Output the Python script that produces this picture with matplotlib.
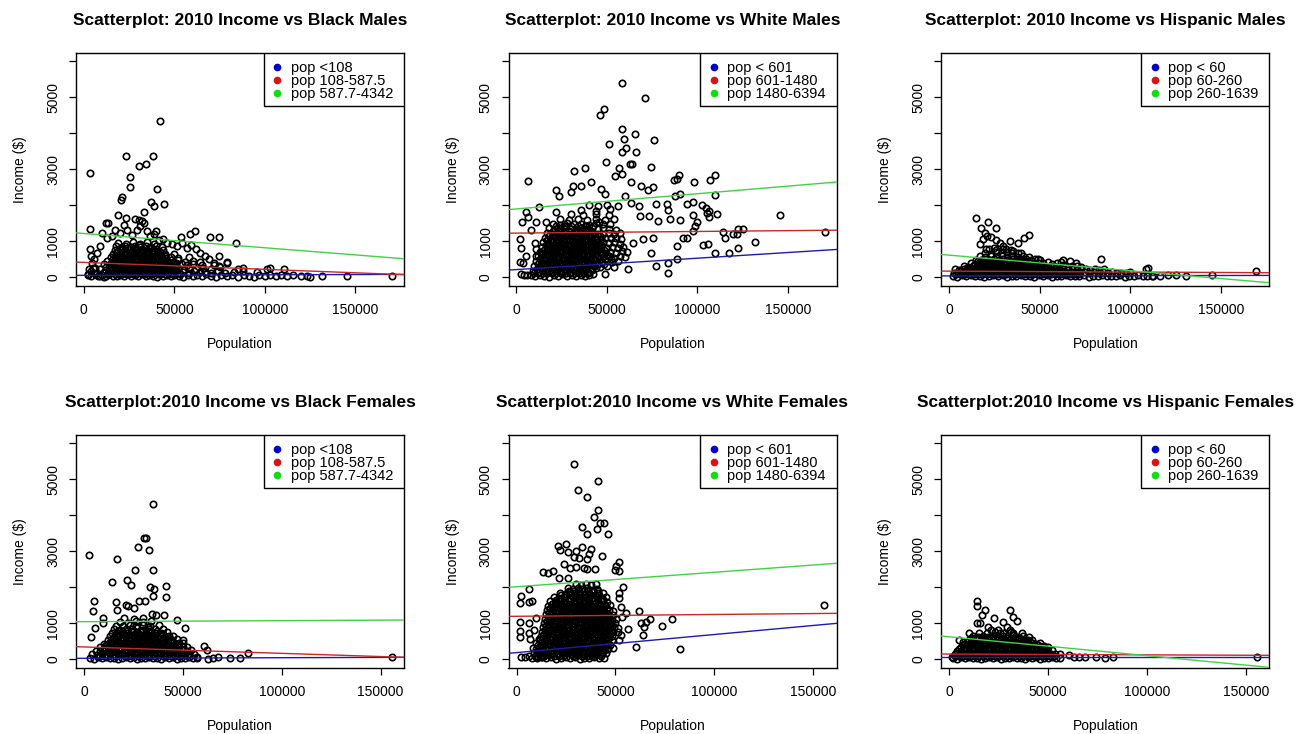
import numpy as np
import matplotlib
matplotlib.use("Agg")
import matplotlib.pyplot as plt
from matplotlib.patches import Rectangle

plt.rcParams['font.family'] = ['Liberation Sans', 'DejaVu Sans']

# ---------------- data: (population in thousands, income $) ----------------
black_males = [
    (3.3,2890),(3.3,1350),(23.2,3380),(38.2,3380),(41.9,4330),(30.7,3080),(34.6,3140),(25.7,2790),(25.7,2510),
    (40.4,2460),(37.1,2080),(39.0,1970),(44.1,2050),(21.3,2230),(20.6,2160),(18.7,1730),(23.2,1650),(33.1,1810),
    (28.5,1630),(30.3,1600),(32.2,1560),(33.5,1510),(12.5,1510),(13.2,1500),(39.7,1280),(53.7,1120),(58.8,1210),
    (61.6,1280),(69.8,1120),(74.6,1120),(84.2,960),(74.6,590),(79.0,430),
    (10.1,1235),(12.9,1097),(15.6,1143),(17.5,1328),(20.2,1235),(22.4,1466),(23.9,1328),(26.7,1189),(29.4,1328),
    (31.2,1420),(34.9,1282),(36.8,1143),(38.6,1217),(41.4,1051),(43.7,1069),(46.0,959),(48.7,913),(51.5,867),
    (54.2,959),(57.0,820),(59.2,885),(62.1,775),(64.3,682),(67.0,590),(68.9,498),(71.7,406),(74.4,313),(79.0,406),
    (3.7,775),(4.0,590),(4.6,406),(5.5,498),(7.4,682),(9.2,867),(6.4,267),(2.8,221),(2.2,83),(9.2,37),(11.0,0),
    (2.5,60),(4.2,35),(6.1,80),(8.0,45),(10.2,70),(12.1,30),(14.0,85),(16.2,50),(18.1,25),(20.0,75),(22.3,40),
    (24.1,90),(26.0,30),(28.2,65),(30.1,45),(32.0,85),(34.2,30),(36.1,70),(38.0,50),(40.2,20),(42.1,80),(44.0,40),
    (46.2,65),(48.1,30),(50.0,75),(52.5,45),(55.0,20),(57.5,70),(60.1,35),(62.6,60),(65.0,25),(67.5,80),(70.2,40),
    (73.1,15),(76.0,60),(79.0,30),(82.1,70),(85.0,20),(88.2,55),(91.0,35),(94.1,10),(97.0,60),(100.2,30),(103.0,75),
    (106.1,25),(109.0,55),(112.0,40),(115.5,70),(120.0,30),(123.1,50),(125.0,20),(131.4,30),(145.2,50),(170.0,25),
    (4.0,170),(7.5,130),(11.0,160),(13.5,120),(15.8,180),(18.0,140),(20.1,110),(22.0,175),(24.2,135),(26.1,160),
    (28.0,115),(30.2,185),(32.1,140),(34.0,120),(36.2,170),(38.1,130),(40.0,160),(42.2,110),(44.1,180),(46.0,140),
    (48.2,120),(50.1,165),(52.3,130),(55.0,155),(58.1,120),(61.0,170),(64.2,135),(67.0,150),(70.1,120),(74.0,165),
    (78.2,130),(83.0,150),(88.1,180),(95.6,140),(101.1,240),(102.9,250),(110.3,240),
    (5.0,260),(9.0,230),(12.0,280),(14.8,240),(17.0,270),(19.1,220),(21.0,285),(23.1,245),(25.0,270),(27.2,225),
    (29.1,280),(31.0,240),(33.2,265),(35.1,230),(37.0,285),(39.2,250),(41.1,270),(43.0,225),(45.2,260),(47.1,240),
    (49.0,280),(52.0,250),(55.1,225),(58.0,270),(62.2,240),(66.0,260),(70.1,230),(75.0,280),(85.0,240),(88.0,250),
    (11.0,360),(14.1,330),(16.0,370),(18.2,340),(20.1,375),(22.0,320),(24.2,365),(26.1,345),(28.0,380),(30.2,330),
    (32.1,360),(34.0,340),(36.2,375),(38.1,325),(40.0,360),(42.2,345),(44.1,370),(46.0,330),(48.2,355),(51.0,340),
    (54.1,370),(57.0,330),(60.2,360),(65.0,340),(72.0,350),
    (13.0,460),(16.1,430),(18.0,470),(20.2,440),(22.1,475),(24.0,425),(26.2,465),(28.1,445),(30.0,470),(32.2,430),
    (34.1,460),(36.0,440),(38.2,475),(40.1,430),(42.0,465),(44.2,440),(46.1,460),(49.0,430),(52.1,470),(56.0,440),
    (60.1,460),(64.0,430),
    (15.0,560),(17.1,530),(19.0,570),(21.2,540),(23.1,575),(25.0,530),(27.2,565),(29.1,545),(31.0,570),(33.2,535),
    (35.1,560),(37.0,540),(39.2,575),(41.1,530),(43.0,560),(45.2,545),(48.0,570),(52.1,540),(58.0,560),
    (16.0,660),(18.1,630),(20.0,670),(22.2,640),(24.1,675),(26.0,630),(28.2,665),(30.1,640),(32.0,670),(34.2,635),
    (36.1,660),(38.0,640),(40.2,670),(42.1,630),(45.0,660),(50.0,640),
    (17.0,760),(19.1,730),(21.0,770),(23.2,740),(25.1,775),(27.0,730),(29.2,765),(31.1,745),(33.0,770),(35.2,735),
    (38.0,760),(41.1,740),(44.0,770),
    (18.0,860),(21.1,830),(23.0,870),(26.2,840),(28.1,875),(31.0,830),(34.2,865),(37.1,845),(40.0,870),(43.2,835),
    (19.0,960),(23.1,930),(27.0,970),(31.2,940),(35.1,975),(39.0,930),
    (19.5,95),(25.2,200),(29.8,310),(33.6,500),(27.6,610),(22.8,700),(36.8,805),(30.4,905),(23.9,410),(37.7,195),
    (13.1,100),(17.0,95),(21.1,105),(25.0,100),(29.1,95),(33.0,105),(37.1,100),(41.0,95),(45.1,105),(49.0,100),
    (53.1,95),(14.1,205),(18.0,195),(22.1,200),(26.0,210),(30.1,195),(34.0,205),(38.1,200),(42.0,195),(46.1,205),
    (50.0,200),(15.1,300),(19.0,310),(23.1,295),(27.0,305),(31.1,300),(35.0,310),(39.1,295),(43.0,305),(47.1,300),
    (51.0,295),(15.2,400),(19.1,395),(23.0,410),(27.1,400),(31.0,395),(35.1,405),(39.0,400),(43.1,410),(47.0,395),
    (51.1,400),(16.1,500),(20.0,505),(24.1,495),(28.0,500),(32.1,510),(36.0,495),(40.1,505),(44.0,500),(48.1,495),
    (17.1,600),(21.0,605),(25.1,595),(29.0,600),(33.1,610),(37.0,595),(41.1,605),(45.0,600),
    (18.1,700),(22.0,705),(26.1,695),(30.0,700),(34.1,710),(38.0,695),(42.1,705),
    (20.1,800),(24.0,805),(28.1,795),(32.0,800),(36.1,810),(40.0,795),
]

white_males = [
    (58.1,5387),(70.8,4972),(46.1,4511),(48.3,4677),(58.6,4124),(65.6,3976),(75.9,3810),(59.3,3838),(51.2,3699),
    (60.4,3598),(58.1,3469),(66.3,3487),(49.8,3210),(63.0,3137),(64.0,3137),(37.8,3026),(31.9,2961),(56.6,3026),
    (58.1,2869),(54.6,2804),(74.3,3072),(88.8,2731),(89.9,2832),(87.2,2712),(106.9,2712),(109.8,2841),(98.0,2638),
    (6.6,2684),(21.7,2435),(23.6,2269),(30.2,2371),(31.3,2528),(35.6,2528),(41.5,2638),(46.6,2454),(48.8,2315),
    (59.9,2251),(63.2,2638),(68.6,2528),(72.6,2417),(75.6,2509),(90.3,2325),(87.5,2251),(109.8,2297),(63.6,2066),
    (67.8,1993),(77.4,2048),(83.3,2048),(84.0,1882),(94.4,2038),(97.3,2085),(102.8,2001),(104.5,1928),(106.5,1836),
    (110.6,1771),(5.5,1808),(6.3,1679),(2.9,1541),(12.5,1946),(11.1,1531),(16.2,1531),(21.7,1808),(68.2,1716),
    (73.4,1697),(78.3,1559),(84.8,1624),(90.3,1605),(97.7,1744),(99.9,1531),(105.1,1790),(106.5,1670),(98.6,1421),
    (97.7,1282),(114.3,1273),(115.2,1098),(121.6,1218),(122.2,1347),(125.3,1347),(119.8,1218),(170.3,1264),
    (145.6,1725),(131.6,987),(122.6,812),(117.4,664),(109.8,664),(106.0,913),(103.2,886),(94.4,1098),(92.2,1098),
    (88.8,867),(88.5,498),(83.9,406),(83.9,129),(77.4,314),(74.3,664),(75.6,1098),(70.0,1052),(64.5,959),(61.7,240),
    (49.2,101),(42.4,101),(2.2,1052),(2.4,821),(2.2,434),(5.2,590),(3.7,406),(2.6,101),(4.1,55),(5.9,55),(8.3,1328),
    (10.1,959),(11.1,775),(11.1,590),
    (8.0,60),(10.5,30),(13.1,75),(15.4,45),(18.0,20),(20.6,70),(23.0,40),(25.4,85),(28.1,30),(30.5,65),(33.0,25),
    (35.6,70),(38.0,40),(40.4,60),
    (9.0,190),(12.1,160),(14.5,210),(17.0,170),(19.6,150),(22.0,200),(24.4,165),(27.1,195),(29.5,150),(32.0,205),
    (34.4,170),(37.1,190),(39.5,155),(42.0,200),
    (10.0,320),(13.0,290),(15.6,330),(18.0,300),(20.4,340),(23.1,295),(25.5,325),(28.0,305),(30.6,335),(33.0,290),
    (35.4,320),(38.1,300),(40.5,340),(43.0,310),(46.1,290),(50.0,325),(54.2,300),
    (11.0,450),(14.1,420),(16.5,460),(19.0,430),(21.6,455),(24.0,425),(26.4,465),(29.1,435),(31.5,450),(34.0,420),
    (36.6,460),(39.0,440),(41.4,425),(44.0,455),(47.1,430),(50.0,460),(53.1,420),(56.0,450),
    (12.0,580),(15.1,550),(17.5,590),(20.0,560),(22.6,575),(25.0,545),(27.4,595),(30.0,560),(32.6,580),(35.0,550),
    (37.4,590),(40.1,565),(42.5,545),(45.0,585),(48.1,560),(51.0,580),(54.1,550),(57.0,590),(60.0,565),
    (13.0,710),(16.1,680),(18.5,720),(21.0,690),(23.6,705),(26.0,675),(28.4,725),(31.0,690),(33.5,710),(36.1,680),
    (38.5,720),(41.0,695),(43.6,675),(46.0,715),(49.1,690),(52.0,710),(55.0,680),(58.1,720),(61.0,700),
    (14.0,840),(17.0,810),(19.5,850),(22.1,820),(24.5,835),(27.0,805),(29.6,855),(32.0,820),(34.5,840),(37.1,810),
    (39.5,850),(42.0,825),(44.6,805),(47.0,845),(50.1,820),(53.0,840),(56.1,810),(59.0,850),
    (15.0,970),(18.0,940),(20.5,980),(23.1,950),(25.5,965),(28.0,935),(30.6,985),(33.0,950),(35.5,970),(38.1,940),
    (40.5,980),(43.0,955),(45.6,935),(48.0,975),(51.1,950),(54.0,970),(57.0,940),
    (16.0,1100),(19.0,1070),(21.5,1110),(24.1,1080),(26.5,1095),(29.0,1065),(31.6,1115),(34.0,1080),(36.5,1100),
    (39.1,1070),(41.5,1110),(44.0,1085),(46.6,1065),(49.0,1105),(52.1,1080),(55.0,1100),(58.0,1070),
    (17.0,1230),(20.0,1200),(22.5,1240),(25.1,1210),(27.5,1225),(30.0,1195),(32.6,1245),(35.0,1210),(37.5,1230),
    (40.1,1200),(42.5,1240),(45.0,1215),(48.0,1195),(51.1,1235),(54.0,1210),(57.0,1230),
    (18.0,1360),(21.1,1330),(24.0,1370),(27.0,1340),(30.1,1355),(33.0,1325),(36.0,1375),(39.1,1340),(42.0,1360),
    (45.0,1330),(48.1,1370),(51.0,1345),(55.0,1325),
    (20.0,1490),(24.1,1460),(28.0,1500),(32.1,1470),(36.0,1485),(40.1,1455),(44.0,1505),(48.1,1470),(52.0,1490),
    (24.0,1620),(29.1,1590),(34.0,1630),(39.1,1600),(44.0,1615),(49.1,1585),(54.0,1625),
    (30.0,1750),(37.1,1720),(44.0,1760),(51.1,1730),(36.0,1880),(44.1,1850),(52.0,1890),
    (40.0,2010),(45.1,1980),(50.0,2020),(56.1,1990),
    (16.8,240),(21.8,380),(26.7,110),(31.8,500),(36.9,250),(19.3,640),(24.9,770),(29.9,900),(34.8,630),(39.8,760),
    (44.8,900),(22.8,1020),(27.8,1160),(33.8,1290),(41.2,1030),(46.3,1160),(38.4,1420),(45.9,1550),(26.1,1420),
    (9.7,115),(12.2,120),(14.7,110),(17.2,125),(19.7,115),(22.2,120),(24.7,110),(27.2,125),(29.7,115),(32.2,120),
    (34.7,110),(37.2,125),(39.7,115),
    (11.2,245),(13.7,250),(16.2,240),(18.7,255),(21.2,245),(23.7,250),(26.2,240),(28.7,255),(31.2,245),(33.7,250),
    (36.2,240),(38.7,255),(41.2,245),(44.2,250),
    (12.2,375),(14.7,380),(17.2,370),(19.7,385),(22.2,375),(24.7,380),(27.2,370),(29.7,385),(32.2,375),(34.7,380),
    (37.2,370),(39.7,385),(42.2,375),(45.2,380),(48.2,370),
    (13.2,505),(15.7,510),(18.2,500),(20.7,515),(23.2,505),(25.7,510),(28.2,500),(30.7,515),(33.2,505),(35.7,510),
    (38.2,500),(40.7,515),(43.2,505),(46.2,510),(49.2,500),(52.2,515),
    (14.2,635),(16.7,640),(19.2,630),(21.7,645),(24.2,635),(26.7,640),(29.2,630),(31.7,645),(34.2,635),(36.7,640),
    (39.2,630),(41.7,645),(44.2,635),(47.2,640),(50.2,630),
    (15.2,765),(17.7,770),(20.2,760),(22.7,775),(25.2,765),(27.7,770),(30.2,760),(32.7,775),(35.2,765),(37.7,770),
    (40.2,760),(42.7,775),(45.2,765),(48.2,770),
    (16.2,895),(18.7,900),(21.2,890),(23.7,905),(26.2,895),(28.7,900),(31.2,890),(33.7,905),(36.2,895),(38.7,900),
    (41.2,890),(43.7,905),(46.7,895),
    (17.2,1025),(19.7,1030),(22.2,1020),(24.7,1035),(27.2,1025),(29.7,1030),(32.2,1020),(34.7,1035),(37.2,1025),
    (39.7,1030),(42.2,1020),(44.7,1035),
    (18.2,1155),(20.7,1160),(23.2,1150),(25.7,1165),(28.2,1155),(30.7,1160),(33.2,1150),(35.7,1165),(38.2,1155),
    (40.7,1160),(43.2,1150),
    (20.2,1290),(23.2,1295),(26.2,1285),(29.2,1300),(32.2,1290),(35.2,1295),(38.2,1285),(41.2,1300),
    (22.2,1420),(26.2,1425),(30.2,1415),(34.2,1430),(38.2,1420),(42.2,1425),
]

hispanic_males = [
    (14.7,1651),(21.5,1531),(17.8,1375),(25.7,1375),(19.7,1236),(21.0,1162),(23.3,1125),(26.1,1033),(18.7,1052),
    (16.9,913),(27.9,959),(33.5,1006),(29.8,867),(38.0,959),(41.2,1098),(44.1,1190),(20.6,775),(24.6,821),
    (31.6,775),(35.3,729),(39.9,664),(49.1,517),(84.0,517),(62.9,470),(66.5,443),(70.2,406),(108.8,240),
    (109.9,268),(169.5,175),(145.2,55),(130.9,37),(125.4,55),(120.8,55),(116.2,37),(112.5,37),
    (2.0,40),(4.5,20),(7.0,55),(9.5,30),(12.0,60),(14.5,25),(17.0,50),(19.5,15),(22.0,45),(24.5,65),(27.0,30),
    (29.5,55),(32.0,20),(34.5,50),(37.0,35),(39.5,60),(42.0,25),(44.5,45),(47.0,15),(49.5,55),(52.0,30),(54.5,60),
    (57.0,20),(59.5,45),(62.0,35),(64.5,55),(67.0,25),(69.5,50),(72.0,30),(74.5,60),(77.0,20),(79.5,45),(82.0,35),
    (84.5,55),(87.0,25),(89.5,50),(92.0,30),(94.5,55),(97.0,20),(99.5,45),(102.0,35),(104.5,55),(107.0,25),
    (109.5,50),(112.0,30),
    (2.5,130),(5.0,110),(7.5,145),(10.0,120),(12.5,150),(15.0,115),(17.5,140),(20.0,125),(22.5,155),(25.0,110),
    (27.5,135),(30.0,150),(32.5,120),(35.0,145),(37.5,115),(40.0,140),(42.5,125),(45.0,150),(47.5,110),(50.0,135),
    (52.5,145),(55.0,120),(57.5,150),(60.0,115),(62.5,140),(65.0,125),(67.5,150),(70.0,110),(72.5,135),(75.0,145),
    (77.5,120),(80.0,140),(82.5,115),(85.0,135),(87.5,125),(90.0,145),(92.5,110),(95.0,130),(97.5,120),(100.0,140),
    (3.0,220),(5.5,200),(8.0,235),(10.5,210),(13.0,240),(15.5,205),(18.0,230),(20.5,215),(23.0,245),(25.5,200),
    (28.0,225),(30.5,240),(33.0,210),(35.5,235),(38.0,205),(40.5,230),(43.0,215),(45.5,240),(48.0,200),(50.5,225),
    (53.0,235),(55.5,210),(58.0,240),(60.5,205),(63.0,230),(65.5,215),(68.0,240),(70.5,200),(73.0,225),(75.5,235),
    (78.0,210),(80.5,230),(83.0,205),(85.5,225),
    (8.0,310),(10.5,290),(13.0,325),(15.5,300),(18.0,330),(20.5,295),(23.0,320),(25.5,305),(28.0,335),(30.5,290),
    (33.0,315),(35.5,330),(38.0,300),(40.5,325),(43.0,295),(45.5,320),(48.0,305),(50.5,330),(53.0,290),(55.5,315),
    (58.0,325),(60.5,300),(63.0,330),(65.5,295),(68.0,320),(70.5,305),(73.0,300),
    (12.0,400),(14.5,380),(17.0,415),(19.5,390),(22.0,420),(24.5,385),(27.0,410),(29.5,395),(32.0,425),(34.5,380),
    (37.0,405),(39.5,420),(42.0,390),(44.5,415),(47.0,385),(49.5,410),(52.0,395),(54.5,420),(57.0,380),(59.5,405),
    (62.0,415),
    (15.0,490),(17.5,470),(20.0,505),(22.5,480),(25.0,510),(27.5,475),(30.0,500),(32.5,485),(35.0,515),(37.5,470),
    (40.0,495),(42.5,510),(45.0,480),(47.5,500),(50.0,485),
    (17.0,580),(20.0,560),(23.0,595),(26.0,570),(29.0,600),(32.0,565),(35.0,590),(38.0,575),(41.0,595),(44.0,565),
    (20.0,680),(23.0,660),(26.0,695),(29.0,670),(32.0,700),(35.0,665),(38.0,690),
    (22.0,780),(26.0,760),(30.0,795),(34.0,770),
    (3.7,85),(6.2,90),(8.7,80),(11.2,95),(13.7,85),(16.2,90),(18.7,80),(21.2,95),(23.7,85),(26.2,90),(28.7,80),
    (31.2,95),(33.7,85),(36.2,90),(38.7,80),(41.2,95),(43.7,85),(46.2,90),(48.7,80),(51.2,95),(53.7,85),(56.2,90),
    (58.7,80),(61.2,95),(63.7,85),(66.2,90),(68.7,80),(71.2,95),
    (6.7,175),(9.2,180),(11.7,170),(14.2,185),(16.7,175),(19.2,180),(21.7,170),(24.2,185),(26.7,175),(29.2,180),
    (31.7,170),(34.2,185),(36.7,175),(39.2,180),(41.7,170),(44.2,185),(46.7,175),(49.2,180),(51.7,170),(54.2,185),
    (56.7,175),(59.2,180),(61.7,170),
    (9.7,265),(12.2,270),(14.7,260),(17.2,275),(19.7,265),(22.2,270),(24.7,260),(27.2,275),(29.7,265),(32.2,270),
    (34.7,260),(37.2,275),(39.7,265),(42.2,270),(44.7,260),(47.2,275),(49.7,265),(52.2,270),(54.7,260),
    (13.7,355),(16.2,360),(18.7,350),(21.2,365),(23.7,355),(26.2,360),(28.7,350),(31.2,365),(33.7,355),(36.2,360),
    (38.7,350),(41.2,365),(43.7,355),(46.2,360),(48.7,350),
    (16.2,445),(18.7,450),(21.2,440),(23.7,455),(26.2,445),(28.7,450),(31.2,440),(33.7,455),(36.2,445),(38.7,450),
    (41.2,440),(43.7,455),
]

black_females = [
    (2.7,2898),(34.7,4315),(30.3,3380),(31.3,3361),(27.1,3111),(32.7,3037),(16.8,2787),(25.8,2472),(34.7,2472),
    (14.3,2157),(21.6,2194),(23.8,2065),(33.4,2000),(35.4,1944),(34.7,1759),(41.5,2046),(41.5,1741),(5.1,1620),
    (4.7,1343),(16.3,1602),(21.2,1509),(22.4,1491),(25.4,1435),(28.0,1620),(30.7,1620),(16.8,1370),(34.2,1250),
    (36.4,1231),(40.6,1231),(46.8,1093),(51.1,880),(9.8,1139),(9.4,1019),(5.6,880),(3.4,611),(49.9,537),(60.7,370),
    (62.0,259),(83.1,167),(78.9,46),(73.8,46),(67.9,65),(65.4,28),(62.9,0),(155.7,56),(57.0,74),(52.7,120),
    (3.0,40),(5.0,20),(7.0,55),(9.0,30),(11.0,60),(13.0,25),(15.0,50),(17.0,15),(19.0,45),(21.0,65),(23.0,30),
    (25.0,55),(27.0,20),(29.0,50),(31.0,35),(33.0,60),(35.0,25),(37.0,45),(39.0,15),(41.0,55),(43.0,30),(45.0,60),
    (47.0,20),(49.0,45),(51.0,35),(53.0,55),(55.0,25),(57.0,50),
    (4.0,140),(6.5,120),(9.0,155),(11.0,130),(13.0,160),(15.0,125),(17.0,150),(19.0,135),(21.0,165),(23.0,120),
    (25.0,145),(27.0,160),(29.0,130),(31.0,155),(33.0,125),(35.0,150),(37.0,135),(39.0,160),(41.0,120),(43.0,145),
    (45.0,155),(47.0,130),(49.0,160),(51.0,125),(53.0,150),(55.5,135),
    (6.0,240),(8.0,220),(10.0,255),(12.0,230),(14.0,260),(16.0,225),(18.0,250),(20.0,235),(22.0,265),(24.0,220),
    (26.0,245),(28.0,260),(30.0,230),(32.0,255),(34.0,225),(36.0,250),(38.0,235),(40.0,260),(42.0,220),(44.0,245),
    (46.0,255),(48.0,230),(50.0,260),(52.0,225),(54.0,250),
    (8.0,340),(10.0,320),(12.0,355),(14.0,330),(16.0,360),(18.0,325),(20.0,350),(22.0,335),(24.0,365),(26.0,320),
    (28.0,345),(30.0,360),(32.0,330),(34.0,355),(36.0,325),(38.0,350),(40.0,335),(42.0,360),(44.0,320),(46.0,345),
    (48.0,355),(50.0,330),(52.0,350),
    (10.0,440),(12.0,420),(14.0,455),(16.0,430),(18.0,460),(20.0,425),(22.0,450),(24.0,435),(26.0,465),(28.0,420),
    (30.0,445),(32.0,460),(34.0,430),(36.0,455),(38.0,425),(40.0,450),(42.0,435),(44.0,460),(46.0,420),(48.0,445),
    (50.0,455),
    (12.0,540),(14.0,520),(16.0,555),(18.0,530),(20.0,560),(22.0,525),(24.0,550),(26.0,535),(28.0,565),(30.0,520),
    (32.0,545),(34.0,560),(36.0,530),(38.0,555),(40.0,525),(42.0,550),(44.5,535),(47.0,560),
    (13.0,640),(15.0,620),(17.0,655),(19.0,630),(21.0,660),(23.0,625),(25.0,650),(27.0,635),(29.0,665),(31.0,620),
    (33.0,645),(35.0,660),(37.0,630),(39.0,655),(41.0,625),(43.0,650),(45.0,635),
    (14.0,740),(16.5,720),(19.0,755),(21.5,730),(24.0,760),(26.5,725),(29.0,750),(31.5,735),(34.0,765),(36.5,720),
    (39.0,745),(42.0,760),
    (15.0,840),(18.0,820),(21.0,855),(24.0,830),(27.0,860),(30.0,825),(33.0,850),(36.0,835),(40.0,855),
    (16.0,940),(19.5,920),(23.0,955),(26.5,930),(30.0,960),(33.5,925),(38.0,950),
    (18.0,1040),(22.0,1020),(26.0,1055),(30.0,1030),(34.0,1060),(20.0,1140),(25.0,1120),(30.0,1155),
    (20.9,90),(26.1,190),(31.2,290),(24.8,395),(29.1,490),(35.2,590),(22.7,690),(28.3,790),(32.4,890),(37.3,395),
    (8.0,90),(12.0,95),(16.0,85),(24.0,95),(28.0,85),(32.0,90),(36.0,95),(40.0,85),(44.0,90),(48.0,95),
    (9.0,190),(13.0,195),(17.0,185),(21.0,195),(25.0,190),(29.0,185),(33.0,195),(37.0,190),(41.0,185),(45.0,195),
    (49.0,190),(11.0,290),(15.0,295),(19.0,285),(23.0,295),(27.0,290),(35.0,285),(39.0,295),(43.0,290),(47.0,285),
    (11.0,390),(15.0,395),(19.0,385),(23.0,395),(27.0,390),(31.0,385),(35.0,395),(39.0,390),(43.0,385),(47.0,395),
    (13.0,490),(17.0,495),(21.0,485),(25.0,495),(33.0,490),(37.0,485),(41.0,495),(45.0,490),
    (15.0,590),(19.0,595),(23.0,585),(27.0,595),(31.0,590),(39.0,585),(43.0,595),
    (16.0,690),(20.0,695),(24.0,685),(28.0,695),(32.0,690),(36.0,685),(40.0,695),
    (17.0,790),(21.0,795),(25.0,785),(29.0,795),(33.0,790),(37.0,785),
]

white_females = [
    (28.9,5417),(41.4,4954),(30.9,4704),(35.6,4518),(41.4,4148),(39.0,3963),(42.2,3796),(44.4,3778),(40.5,3611),
    (32.9,3676),(35.6,3472),(46.1,3472),(20.8,3157),(25.0,3204),(22.0,3037),(26.2,2991),(30.1,3018),(32.9,3130),
    (37.7,3065),(36.8,2926),(29.2,2833),(31.8,2805),(35.6,2787),(43.2,2870),(24.2,2648),(27.0,2546),(30.1,2574),
    (34.0,2528),(35.6,2509),(39.4,2509),(52.0,2713),(50.3,2602),(51.7,2454),(49.7,2481),(13.5,2417),(15.7,2389),
    (18.6,2454),(21.6,2250),(25.8,2250),(6.1,1944),(2.2,1759),(1.9,1555),(6.4,1602),(7.6,1620),(54.0,2000),
    (52.0,1852),(52.0,1713),(61.8,1343),(52.9,1463),(55.4,1278),(53.1,1185),(56.2,833),(52.9,676),(52.0,537),
    (48.6,306),(45.8,278),(60.5,352),(63.0,1019),(64.2,907),(65.5,1046),(67.6,1120),(63.8,667),(73.6,926),
    (78.7,1120),(82.8,278),(155.7,1509),(1.7,1046),(1.9,796),(1.9,611),(6.4,1019),(6.1,722),(6.8,556),(9.0,815),
    (9.8,1139),(2.2,74),(4.4,56),(6.4,93),(9.8,56),(12.3,74),(8.1,306),(9.8,444),(11.5,556),
    (8.0,50),(10.4,25),(12.9,60),(15.1,30),(17.6,55),(20.1,20),(22.3,45),(24.8,65),(27.2,30),(29.7,55),(32.0,20),
    (34.3,50),(36.8,35),(39.2,60),(41.7,25),(44.0,45),
    (9.0,170),(11.5,145),(13.8,180),(16.1,150),(18.6,175),(21.1,140),(23.4,165),(25.7,185),(28.2,150),(30.6,175),
    (33.1,140),(35.4,170),(37.8,155),(40.3,180),(42.6,145),(45.1,165),
    (10.0,290),(12.4,265),(14.9,300),(17.2,270),(19.6,295),(22.1,260),(24.4,285),(26.8,305),(29.1,270),(31.6,295),
    (34.0,260),(36.4,290),(38.9,275),(41.2,300),(43.6,265),(46.0,285),
    (11.0,410),(13.4,385),(15.8,420),(18.3,390),(20.6,415),(23.0,380),(25.5,405),(27.8,425),(30.2,390),(32.6,415),
    (35.1,380),(37.4,410),(39.8,395),(42.2,420),(44.7,385),(47.0,405),
    (12.0,530),(14.4,505),(16.9,540),(19.2,510),(21.6,535),(24.1,500),(26.4,525),(28.8,545),(31.2,510),(33.7,535),
    (36.0,500),(38.4,530),(40.9,515),(43.2,540),(45.6,505),(48.0,525),
    (12.5,650),(14.9,625),(17.3,660),(19.8,630),(22.1,655),(24.5,620),(27.0,645),(29.3,665),(31.7,630),(34.1,655),
    (36.6,620),(38.9,650),(41.3,635),(43.8,660),(46.1,625),(48.5,645),
    (13.0,770),(15.4,745),(17.8,780),(20.3,750),(22.6,775),(25.0,740),(27.5,765),(29.8,785),(32.2,750),(34.6,775),
    (37.1,740),(39.4,770),(41.8,755),(44.3,780),(46.6,745),(49.0,765),(51.2,750),
    (13.5,890),(15.9,865),(18.3,900),(20.8,870),(23.1,895),(25.5,860),(28.0,885),(30.3,905),(32.7,870),(35.1,895),
    (37.6,860),(39.9,890),(42.3,875),(44.8,900),(47.1,865),(49.5,885),(51.5,870),
    (14.0,1010),(16.4,985),(18.8,1020),(21.3,990),(23.6,1015),(26.0,980),(28.5,1005),(30.8,1025),(33.2,990),
    (35.6,1015),(38.1,980),(40.4,1010),(42.8,995),(45.3,1020),(47.6,985),(50.0,1005),
    (14.5,1130),(16.9,1105),(19.3,1140),(21.8,1110),(24.1,1135),(26.5,1100),(29.0,1125),(31.3,1145),(33.7,1110),
    (36.1,1135),(38.6,1100),(40.9,1130),(43.3,1115),(45.8,1140),(48.1,1105),(50.5,1125),
    (15.0,1250),(17.4,1225),(19.8,1260),(22.3,1230),(24.6,1255),(27.0,1220),(29.5,1245),(31.8,1265),(34.2,1230),
    (36.6,1255),(39.1,1220),(41.4,1250),(43.8,1235),(46.3,1260),(48.6,1225),
    (15.5,1370),(17.9,1345),(20.3,1380),(22.8,1350),(25.1,1375),(27.5,1340),(30.0,1365),(32.3,1385),(34.7,1350),
    (37.1,1375),(39.6,1340),(41.9,1370),(44.3,1355),(46.8,1380),(49.0,1345),
    (16.0,1490),(18.4,1465),(20.8,1500),(23.3,1470),(25.6,1495),(28.0,1460),(30.5,1485),(32.8,1505),(35.2,1470),
    (37.6,1495),(40.1,1460),(42.4,1490),(44.8,1475),(47.3,1500),
    (17.0,1610),(19.4,1585),(21.8,1620),(24.3,1590),(26.6,1615),(29.0,1580),(31.5,1605),(33.8,1625),(36.2,1590),
    (38.6,1615),(41.1,1580),(43.4,1610),(45.8,1595),
    (19.0,1730),(21.4,1705),(23.8,1740),(26.3,1710),(28.6,1735),(31.0,1700),(33.5,1725),(35.8,1745),(38.2,1710),
    (40.6,1735),(43.1,1700),(45.4,1730),
    (22.0,1850),(24.4,1825),(26.8,1860),(29.3,1830),(31.6,1855),(34.0,1820),(36.5,1845),(38.8,1865),(41.2,1830),
    (43.6,1855),
    (26.0,1970),(28.4,1945),(30.8,1980),(33.3,1950),(35.6,1975),(38.0,1940),(40.5,1965),
    (30.0,2090),(32.5,2060),(35.0,2100),(37.5,2070),(40.0,2095),
    (21.2,100),(26.3,220),(31.4,340),(36.5,460),(23.8,580),(28.9,700),(34.0,820),(39.1,940),(19.6,1060),(25.7,1180),
    (30.8,1300),(35.9,1420),(41.0,1060),(24.5,1540),(32.1,1660),(38.7,1300),(44.6,580),(17.2,820),
    (9.2,100),(11.6,105),(14.0,95),(16.4,110),(18.8,100),(23.6,105),(28.4,95),(30.8,110),(33.2,100),(35.6,105),
    (38.0,95),(40.4,110),(42.8,100),
    (10.2,220),(12.6,225),(15.0,215),(17.4,230),(19.8,220),(22.2,225),(24.6,215),(27.0,230),(29.4,220),(31.8,225),
    (34.2,215),(36.6,230),(39.0,220),(41.4,225),(43.8,215),
    (11.2,340),(13.6,345),(16.0,335),(18.4,350),(20.8,340),(23.2,345),(25.6,335),(28.0,350),(30.4,340),(32.8,345),
    (35.2,335),(37.6,350),(40.0,340),(42.4,345),(44.8,335),
    (12.2,460),(14.6,465),(17.0,455),(19.4,470),(21.8,460),(24.2,465),(26.6,455),(29.0,470),(31.4,460),(33.8,465),
    (38.6,455),(41.0,470),(43.4,460),(45.8,465),
    (13.2,580),(15.6,585),(18.0,575),(20.4,590),(22.8,580),(25.2,585),(27.6,575),(30.0,590),(32.4,580),(34.8,585),
    (37.2,575),(39.6,590),(42.0,580),(46.8,585),
    (13.7,700),(16.1,705),(18.5,695),(20.9,710),(23.3,700),(25.7,705),(28.1,695),(30.5,710),(32.9,700),(35.3,705),
    (37.7,695),(40.1,710),(42.5,700),(44.9,705),(47.3,695),
    (14.2,820),(16.6,825),(19.0,815),(21.4,830),(23.8,820),(26.2,825),(28.6,815),(31.0,830),(33.4,820),(35.8,825),
    (38.2,815),(40.6,830),(43.0,820),(45.4,825),(47.8,815),
    (14.7,940),(17.1,945),(19.5,935),(21.9,950),(24.3,940),(26.7,945),(29.1,935),(31.5,950),(33.9,940),(36.3,945),
    (38.7,935),(41.1,950),(43.5,940),(45.9,945),(48.3,935),
    (15.2,1060),(17.6,1065),(20.0,1055),(22.4,1070),(24.8,1060),(27.2,1065),(29.6,1055),(32.0,1070),(34.4,1060),
    (36.8,1065),(39.2,1055),(41.6,1070),(44.0,1060),(46.4,1065),
    (15.7,1180),(18.1,1185),(20.5,1175),(22.9,1190),(25.3,1180),(27.7,1185),(30.1,1175),(32.5,1190),(34.9,1180),
    (37.3,1185),(39.7,1175),(42.1,1190),(44.5,1180),(46.9,1185),
    (16.2,1300),(18.6,1305),(21.0,1295),(23.4,1310),(25.8,1300),(28.2,1305),(30.6,1295),(33.0,1310),(35.4,1300),
    (37.8,1305),(40.2,1295),(42.6,1310),(45.0,1300),
    (16.7,1420),(19.1,1425),(21.5,1415),(23.9,1430),(26.3,1420),(28.7,1425),(31.1,1415),(33.5,1430),(35.9,1420),
    (38.3,1425),(40.7,1415),(43.1,1430),(45.5,1420),
    (17.7,1540),(20.1,1545),(22.5,1535),(24.9,1550),(27.3,1540),(29.7,1545),(34.5,1535),(36.9,1550),(39.3,1540),
    (41.7,1545),(44.1,1535),
    (19.7,1660),(22.1,1665),(24.5,1655),(26.9,1670),(29.3,1660),(31.7,1665),(34.1,1655),(36.5,1670),(38.9,1660),
    (41.3,1665),(43.7,1655),
    (22.7,1780),(25.1,1785),(27.5,1775),(29.9,1790),(32.3,1780),(34.7,1785),(37.1,1775),(39.5,1790),(41.9,1780),
    (26.7,1900),(29.1,1905),(31.5,1895),(33.9,1910),(36.3,1900),(38.7,1905),(41.1,1895),
]

hispanic_females = [
    (14.2,1620),(14.2,1481),(18.0,1370),(16.3,1231),(30.7,1370),(22.6,1139),(32.0,1185),(34.0,1074),(13.8,1000),
    (15.5,1000),(10.1,722),(19.7,907),(20.9,815),(24.8,815),(27.3,1046),(25.6,722),(29.0,907),(30.7,815),
    (32.4,722),(40.4,611),(36.6,722),(47.9,370),(55.9,148),(60.7,120),(63.0,56),(65.7,56),(68.6,56),(74.1,56),
    (78.9,28),(82.9,56),(155.4,56),(5.1,537),(7.1,491),(1.2,74),
    (2.0,40),(4.0,20),(6.0,55),(8.0,30),(10.0,60),(12.0,25),(14.0,50),(16.0,15),(18.0,45),(20.0,65),(22.0,30),
    (24.0,55),(26.0,20),(28.0,50),(30.0,35),(32.0,60),(34.0,25),(36.0,45),(38.0,15),(40.0,55),(42.0,30),(44.0,60),
    (46.0,20),(48.0,45),(50.0,35),(52.0,55),(54.0,25),(56.0,50),
    (3.0,140),(5.0,120),(7.0,155),(9.0,130),(11.0,160),(13.0,125),(15.0,150),(17.0,135),(19.0,165),(21.0,120),
    (23.0,145),(25.0,160),(27.0,130),(29.0,155),(31.0,125),(33.0,150),(35.0,135),(37.0,160),(39.0,120),(41.0,145),
    (43.0,155),(45.0,130),(47.0,160),(49.0,125),(51.0,150),(53.5,135),
    (4.0,240),(6.0,220),(8.0,255),(10.0,230),(12.0,260),(14.0,225),(16.0,250),(18.0,235),(20.0,265),(22.0,220),
    (24.0,245),(26.0,260),(28.0,230),(30.0,255),(32.0,225),(34.0,250),(36.0,235),(38.0,260),(40.0,220),(42.0,245),
    (44.0,255),(46.0,230),(48.0,260),(50.0,225),(52.0,250),
    (6.0,340),(8.0,320),(10.0,355),(12.0,330),(14.0,360),(16.0,325),(18.0,350),(20.0,335),(22.0,365),(24.0,320),
    (26.0,345),(28.0,360),(30.0,330),(32.0,355),(34.0,325),(36.0,350),(38.0,335),(40.0,360),(42.0,320),(44.0,345),
    (46.0,355),(48.0,330),(50.0,350),
    (8.0,440),(10.0,420),(12.0,455),(14.0,430),(16.0,460),(18.0,425),(20.0,450),(22.0,435),(24.0,465),(26.0,420),
    (28.0,445),(30.0,460),(32.0,430),(34.0,455),(36.0,425),(38.0,450),(40.0,435),(42.0,460),(44.0,420),(46.0,445),
    (10.0,540),(12.0,520),(14.0,555),(16.0,530),(18.0,560),(20.0,525),(22.0,550),(24.0,535),(26.0,565),(28.0,520),
    (30.0,545),(32.0,560),(34.0,530),(36.0,555),(38.0,525),(40.0,550),(42.0,535),
    (12.0,640),(14.5,620),(17.0,655),(19.5,630),(22.0,660),(24.5,625),(27.0,650),(29.5,635),(32.0,665),(34.5,620),
    (37.0,645),
    (15.0,740),(19.0,720),(23.0,755),(27.0,730),(31.0,760),
    (21.1,90),(27.1,190),(33.1,290),(23.1,390),(29.1,490),(35.1,190),(17.1,290),(25.1,590),
    (3.0,90),(5.0,95),(7.0,85),(9.0,95),(11.0,90),(13.0,85),(15.0,95),(17.0,90),(19.0,85),(23.0,95),(25.0,90),
    (29.0,85),(31.0,95),(35.0,85),(37.0,95),(39.0,90),(41.0,85),(43.0,95),(45.0,90),(47.0,85),(49.0,95),(51.0,90),
    (53.0,85),
    (4.0,190),(6.0,195),(8.0,185),(10.0,195),(12.0,190),(14.0,185),(16.0,195),(18.0,190),(20.0,185),(22.0,195),
    (24.0,190),(26.0,185),(28.0,195),(30.0,190),(32.0,185),(34.0,195),(36.0,190),(38.0,185),(40.0,195),(42.0,190),
    (44.0,185),(46.0,195),(48.0,190),(50.0,185),
    (5.0,290),(7.0,295),(9.0,285),(11.0,295),(13.0,290),(15.0,285),(19.0,295),(21.0,290),(23.0,285),(25.0,295),
    (27.0,290),(29.0,285),(31.0,295),(33.0,290),(35.0,285),(37.0,295),(39.0,290),(41.0,285),(43.0,295),(45.0,290),
    (47.0,285),(49.0,295),
    (7.0,390),(9.0,395),(11.0,385),(13.0,395),(15.0,390),(17.0,385),(19.0,395),(21.0,390),(25.0,395),(27.0,390),
    (31.0,385),(33.0,395),(35.0,390),(37.0,385),(39.0,395),(41.0,390),(43.0,385),(45.0,395),
    (9.0,490),(11.0,495),(13.0,485),(15.0,495),(17.0,490),(19.0,485),(21.0,495),(23.0,490),(27.0,495),(31.0,485),
    (33.0,495),(37.0,490),(39.0,485),(41.0,495),
    (11.0,590),(13.0,595),(15.0,585),(17.0,595),(19.0,590),(21.0,585),(23.0,595),(27.0,590),(29.0,585),(31.0,595),
    (33.0,590),(35.0,585),
]

# regression lines: (intercept $, slope $ per person) for blue / red / green groups
fit_black_males = [(56, 0.00015), (416, -0.00193), (1219, -0.00397)]
fit_white_males = [(216, 0.00316), (1229, 0.000458), (1900, 0.00423)]
fit_hispanic_males = [(40, 0.00008), (173, -0.00025), (617, -0.00433)]
fit_black_females = [(29, 0.00017), (345, -0.00178), (1047, 0.00028)]
fit_white_females = [(188, 0.00502), (1196, 0.000506), (2017, 0.00402)]
fit_hispanic_females = [(56, 0.0), (147, -0.00022), (627, -0.00525)]

legend_black = ['pop <108', 'pop 108-587.5', 'pop 587.7-4342']
legend_white = ['pop < 601', 'pop 601-1480', 'pop 1480-6394']
legend_hispanic = ['pop < 60', 'pop 60-260', 'pop 260-1639']

titles = ['Scatterplot: 2010 Income vs Black Males', 'Scatterplot: 2010 Income vs White Males',
          'Scatterplot: 2010 Income vs Hispanic Males', 'Scatterplot:2010 Income vs Black Females',
          'Scatterplot:2010 Income vs White Females', 'Scatterplot:2010 Income vs Hispanic Females']

y_ticks = [0, 1000, 2000, 3000, 4000, 5000, 6000]
y_tick_labels = ['0', '1000', '', '3000', '', '5000', '']
x_ticks = [0, 50000, 100000, 150000]
x_tick_labels = ['0', '50000', '100000', '150000']

dot_colors = ['#0000cc', '#dd1111', '#11dd11']
line_colors = ['#1c1ca8', '#c42a2a', '#44d044']

# ---------------- layout ----------------
W, H = 1309, 734
fig = plt.figure(figsize=(W / 100, H / 100), dpi=100)
renderer = fig.canvas.get_renderer()
AX_W, AX_H = 328.0, 233.3
lefts = [76.0, 508.5, 941.3]
tops = [52.7, 434.7]
xlims = [(-4300, 176800), (-4100, 161800)]

panels = [
    (black_males, legend_black, fit_black_males),
    (white_males, legend_white, fit_white_males),
    (hispanic_males, legend_hispanic, fit_hispanic_males),
    (black_females, legend_black, fit_black_females),
    (white_females, legend_white, fit_white_females),
    (hispanic_females, legend_hispanic, fit_hispanic_females),
]

for i, (pts, labs, fits) in enumerate(panels):
    r, c = divmod(i, 3)
    l, t = lefts[c], tops[r]
    ax = fig.add_axes([l / W, 1 - (t + AX_H) / H, AX_W / W, AX_H / H])
    pop = np.array([p[0] for p in pts]) * 1000.0
    inc = np.array([p[1] for p in pts], dtype=float)
    ax.plot(pop, inc, ls='none', marker='o', ms=4.6, mfc='none', mec='black', mew=1.2, zorder=2)
    for (a, b), lc in zip(fits, line_colors):
        ax.axline((0, a), slope=b, color=lc, lw=1.0, zorder=3)

    ax.set_xticks(x_ticks)
    ax.set_xticklabels(x_tick_labels)
    ax.set_yticks(y_ticks)
    ax.set_yticklabels(y_tick_labels, rotation=90, va='center')
    ax.tick_params(axis='both', direction='out', length=5, width=0.9, labelsize=10, color='black')
    ax.tick_params(axis='x', pad=7.5)
    ax.tick_params(axis='y', pad=6.5)
    for s in ax.spines.values():
        s.set_linewidth(1.0)

    ax.text(0.5, 1 + 31.7 / AX_H, titles[i], transform=ax.transAxes, ha='center', va='center',
            fontsize=12.5, fontweight='bold')
    ax.text(0.5, -58 / AX_H, 'Population', transform=ax.transAxes, ha='center', va='center', fontsize=10)
    ax.text(-56 / AX_W, 0.5, 'Income ($)', transform=ax.transAxes, ha='center', va='center',
            rotation=90, fontsize=10)

    # legend (R style box, top-right)
    texts = []
    for k, lab in enumerate(labs):
        ty = 1 - (15 + 13.3 * k) / AX_H
        texts.append(ax.text(0, ty, lab, transform=ax.transAxes, fontsize=10.5, va='center', ha='left', zorder=7))
    maxw = max(tx.get_window_extent(renderer=renderer).width for tx in texts)
    lw_px = 27 + maxw + 11
    x0 = 1 - lw_px / AX_W
    for k, tx in enumerate(texts):
        tx.set_x(x0 + 27 / AX_W)
        ax.plot([x0 + 13.7 / AX_W], [1 - (14 + 13.3 * k) / AX_H], transform=ax.transAxes, marker='o',
                ms=4.5, color=dot_colors[k], ls='none', clip_on=False, zorder=7)
    ax.add_patch(Rectangle((x0, 1 - 53.3 / AX_H), lw_px / AX_W, 53.3 / AX_H, transform=ax.transAxes,
                           facecolor='white', edgecolor='black', lw=1.0, zorder=6))

    ax.set_xlim(*xlims[r])
    ax.set_ylim(-240, 6240)

fig.savefig('out.png', dpi=100)
